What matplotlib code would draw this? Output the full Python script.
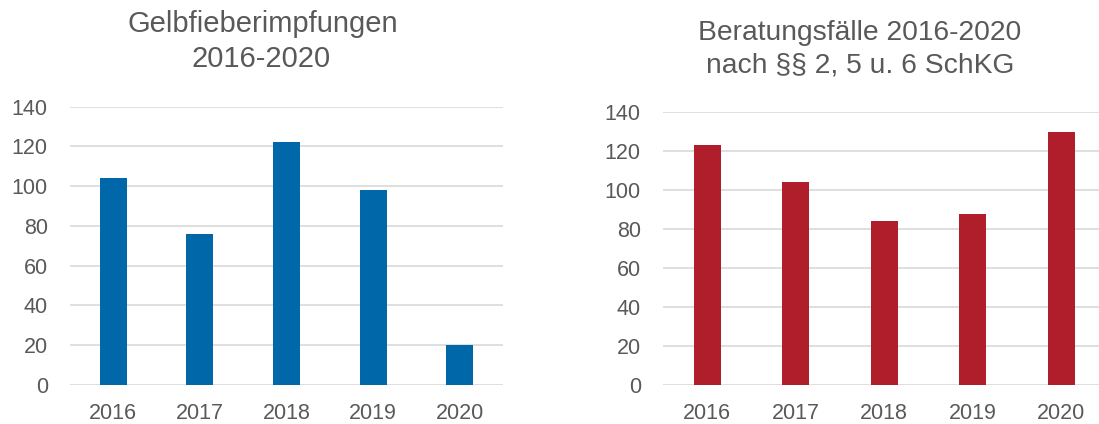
import matplotlib
matplotlib.use("Agg")
import matplotlib.pyplot as plt

years = ["2016", "2017", "2018", "2019", "2020"]
gelbfieber = [104, 76, 122, 98, 20]
beratung = [123, 104, 84, 88, 130]
yticks = [0, 20, 40, 60, 80, 100, 120, 140]

plt.rcParams['font.family'] = ['Liberation Sans', 'DejaVu Sans']
DPI = 100
fig = plt.figure(figsize=(10.99, 4.24), dpi=DPI)

def px(x0, y0, x1, y1):
    W, H = 1099, 424
    return [x0 / W, 1 - y1 / H, (x1 - x0) / W, (y1 - y0) / H]

tick_col = "#595959"

def style(ax, vals, color):
    xs = range(len(years))
    ax.bar(xs, vals, width=0.31, color=color, zorder=3)
    ax.set_xlim(-0.5, len(years) - 0.5)
    ax.set_ylim(0, 140)
    ax.set_yticks(yticks)
    ax.set_xticks(list(xs))
    ax.set_xticklabels(years)
    ax.yaxis.grid(True, color="#d9d9d9", linewidth=1.2, zorder=0)
    for s in ax.spines.values():
        s.set_visible(False)
    ax.tick_params(axis='both', length=0, labelsize=15.5, colors=tick_col)
    ax.tick_params(axis='y', pad=16)
    ax.tick_params(axis='x', pad=13)

ax1 = fig.add_axes(px(70, 106.7, 503, 385))
style(ax1, gelbfieber, "#0068A8")
ax2 = fig.add_axes(px(663, 112.3, 663 + 5 * 88.5, 385))
style(ax2, beratung, "#B01E2B")

title_col = "#595959"
fig.text(263 / 1099, 1 - 32 / 424, "Gelbfieberimpfungen", ha="center", va="baseline",
         fontsize=21, color=title_col)
fig.text(261 / 1099, 1 - 67 / 424, "2016-2020", ha="center", va="baseline",
         fontsize=21, color=title_col)
fig.text(860 / 1099, 1 - 40 / 424, "Beratungsfälle 2016-2020", ha="center", va="baseline",
         fontsize=20.3, color=title_col)
fig.text(860 / 1099, 1 - 72 / 424, "nach §§ 2, 5 u. 6 SchKG", ha="center", va="baseline",
         fontsize=20.3, color=title_col)

fig.savefig("out.png", dpi=DPI)
